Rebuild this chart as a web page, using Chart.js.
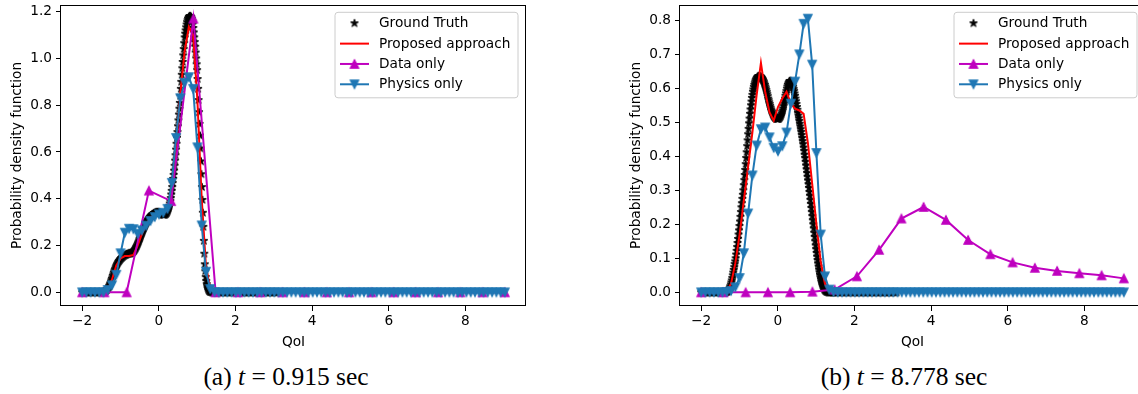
<!DOCTYPE html>
<html><head><meta charset="utf-8">
<script src="https://cdn.jsdelivr.net/npm/chart.js@4/dist/chart.umd.min.js"></script>
<style>
html,body{margin:0;padding:0;background:#fff;width:1138px;height:394px;overflow:hidden;position:relative;}
.cw{position:absolute;top:0;width:540px;height:352px;}
#wa{left:0}
#wb{left:619px}
.cap{position:absolute;top:363px;font-family:'Liberation Serif','Times New Roman',serif;font-size:25.5px;white-space:nowrap;transform:translateX(-50%);line-height:28px;color:#000;}
</style></head><body>
<div class="cw" id="wa"><canvas id="ca" width="540" height="352"></canvas></div>
<div class="cw" id="wb"><canvas id="cb" width="540" height="352"></canvas></div>
<div class="cap" style="left:286px">(a) <i>t</i> = 0.915 sec</div>
<div class="cap" style="left:904px">(b) <i>t</i> = 8.778 sec</div>
<script>
const seriesLabels = ['Ground Truth','Proposed approach','Data only','Physics only'];
const xAxisTitle = 'QoI';
const yAxisTitle = 'Probability density function';
const xTickValues = [-2,0,2,4,6,8];
const yTicksA = [0,0.2,0.4,0.6,0.8,1.0,1.2];
const yTicksB = [0,0.1,0.2,0.3,0.4,0.5,0.6,0.7,0.8];

// sample positions of the ground-truth curve (dense where the pdf is non-zero)
const xFine = [
-2,-1.975,-1.95,-1.925,-1.9,-1.875,-1.85,-1.825,-1.8,-1.775,
-1.75,-1.725,-1.7,-1.675,-1.65,-1.625,-1.6,-1.575,-1.55,-1.525,
-1.5,-1.4875,-1.475,-1.4625,-1.45,-1.4375,-1.425,-1.4125,
-1.4,-1.3875,-1.375,-1.3625,-1.35,-1.3375,-1.325,-1.3125,
-1.3,-1.2875,-1.275,-1.2625,-1.25,-1.2375,-1.225,-1.2125,
-1.2,-1.1875,-1.175,-1.1625,-1.15,-1.1375,-1.125,-1.1125,
-1.1,-1.0875,-1.075,-1.0625,-1.05,-1.0375,-1.025,-1.0125,
-1.0,-0.9875,-0.975,-0.9625,-0.95,-0.9375,-0.925,-0.9125,
-0.9,-0.8875,-0.875,-0.8625,-0.85,-0.8375,-0.825,-0.8125,
-0.8,-0.7875,-0.775,-0.7625,-0.75,-0.7375,-0.725,-0.7125,
-0.7,-0.6875,-0.675,-0.6625,-0.65,-0.6375,-0.625,-0.6125,
-0.6,-0.5875,-0.575,-0.5625,-0.55,-0.5375,-0.525,-0.5125,
-0.5,-0.4875,-0.475,-0.4625,-0.45,-0.4375,-0.425,-0.4125,
-0.4,-0.3875,-0.375,-0.3625,-0.35,-0.3375,-0.325,-0.3125,
-0.3,-0.2875,-0.275,-0.2625,-0.25,-0.2375,-0.225,-0.2125,
-0.2,-0.1875,-0.175,-0.1625,-0.15,-0.1375,-0.125,-0.1125,
-0.1,-0.0875,-0.075,-0.0625,-0.05,-0.0375,-0.025,-0.0125,
0,0.0125,0.025,0.0375,0.05,0.0625,0.075,0.0875,
0.1,0.1125,0.125,0.1375,0.15,0.1625,0.175,0.1875,
0.2,0.2125,0.225,0.2375,0.25,0.2625,0.275,0.2875,
0.3,0.3125,0.325,0.3375,0.35,0.3625,0.375,0.3875,
0.4,0.4125,0.425,0.4375,0.45,0.4625,0.475,0.4875,
0.5,0.5125,0.525,0.5375,0.55,0.5625,0.575,0.5875,
0.6,0.6125,0.625,0.6375,0.65,0.6625,0.675,0.6875,
0.7,0.7125,0.725,0.7375,0.75,0.7625,0.775,0.7875,
0.8,0.8125,0.825,0.8375,0.85,0.8625,0.875,0.8875,
0.9,0.9125,0.925,0.9375,0.95,0.9625,0.975,0.9875,
1.0,1.0125,1.025,1.0375,1.05,1.0625,1.075,1.0875,
1.1,1.1125,1.125,1.1375,1.15,1.1625,1.175,1.1875,
1.2,1.2125,1.225,1.2375,1.25,1.2625,1.275,1.2875,
1.3,1.3125,1.325,1.3375,1.35,1.3625,1.375,1.3875,
1.4,1.4125,1.425,1.4375,1.45,
1.475,1.5,1.525,1.55,1.575,1.6,1.625,1.65,1.675,1.7,
1.725,1.75,1.775,1.8,1.825,1.85,1.875,1.9,1.925,1.95,
1.975,2,2.025,2.05,2.075,2.1,2.125,2.15,2.175,2.2,
2.225,2.25,2.275,2.3,2.325,2.35,2.375,2.4,2.425,2.45,
2.475,2.5,2.525,2.55,2.575,2.6,2.625,2.65,2.675,2.7,
2.725,2.75,2.775,2.8,2.825,2.85,2.875,2.9,2.925,2.95,
2.975,3,3.025,3.05,3.075,3.1];

// grid of the model outputs (proposed / physics only)
const xGrid = [
-2.000,-1.889,-1.777,-1.666,-1.554,-1.443,-1.332,-1.220,-1.109,-0.997,
-0.886,-0.774,-0.663,-0.552,-0.440,-0.329,-0.217,-0.106,0.005,0.117,
0.228,0.340,0.451,0.563,0.674,0.785,0.897,1.008,1.120,1.231,
1.342,1.454,1.565,1.677,1.788,1.899,2.011,2.122,2.234,2.345,
2.457,2.568,2.679,2.791,2.902,3.014,3.125,3.236,3.348,3.459,
3.571,3.682,3.794,3.905,4.016,4.128,4.239,4.351,4.462,4.573,
4.685,4.796,4.908,5.019,5.131,5.242,5.353,5.465,5.576,5.688,
5.799,5.910,6.022,6.133,6.245,6.356,6.468,6.579,6.690,6.802,
6.913,7.025,7.136,7.247,7.359,7.470,7.582,7.693,7.804,7.916,
8.027,8.139,8.250,8.362,8.473,8.584,8.696,8.807,8.919,9.030];

// coarse grid of the data-only model
const xCoarse = [-2,-1.419,-0.839,-0.258,0.322,0.903,1.483,2.064,2.644,3.225,
3.805,4.386,4.966,5.547,6.127,6.708,7.288,7.869,8.449,9.03];

// ---- panel (a) t = 0.915 sec ----
const gtA = [
0,0,0,0,0,0,0,0,0,0,
0,0,0,0,0,0,0,0,0,0,
0,0.0005,0.001,0.0015,0.002,0.0025,0.003,0.004,
0.005,0.0065,0.008,0.010,0.012,0.015,0.018,0.021,
0.025,0.029,0.034,0.039,0.045,0.051,0.057,0.063,
0.070,0.076,0.083,0.089,0.095,0.100,0.106,0.111,
0.116,0.120,0.124,0.128,0.131,0.134,0.137,0.140,
0.142,0.145,0.147,0.149,0.151,0.153,0.155,0.157,
0.158,0.159,0.160,0.161,0.162,0.163,0.164,0.164,
0.165,0.166,0.166,0.166,0.167,0.167,0.168,0.169,
0.170,0.171,0.173,0.175,0.177,0.180,0.183,0.186,
0.190,0.194,0.198,0.202,0.207,0.212,0.217,0.222,
0.228,0.233,0.239,0.244,0.250,0.255,0.260,0.265,
0.270,0.275,0.280,0.285,0.290,0.294,0.298,0.302,
0.305,0.309,0.312,0.315,0.318,0.321,0.323,0.326,
0.328,0.330,0.332,0.334,0.335,0.337,0.338,0.339,
0.340,0.341,0.341,0.342,0.342,0.342,0.342,0.342,
0.342,0.341,0.340,0.339,0.338,0.337,0.335,0.334,
0.333,0.332,0.332,0.332,0.332,0.333,0.334,0.336,
0.338,0.341,0.345,0.350,0.355,0.362,0.370,0.380,
0.390,0.403,0.418,0.434,0.450,0.467,0.485,0.502,
0.520,0.541,0.563,0.586,0.610,0.635,0.660,0.685,
0.710,0.735,0.760,0.785,0.810,0.840,0.870,0.900,
0.930,0.958,0.985,1.013,1.040,1.065,1.090,1.106,
1.120,1.133,1.145,1.155,1.163,1.169,1.174,1.177,
1.180,1.181,1.180,1.178,1.175,1.168,1.160,1.146,
1.130,1.111,1.090,1.070,1.050,1.025,1.000,0.975,
0.950,0.912,0.870,0.822,0.770,0.720,0.670,0.615,
0.560,0.505,0.450,0.395,0.340,0.280,0.220,0.165,
0.120,0.090,0.065,0.048,0.035,0.026,0.018,0.013,
0.009,0.006,0.004,0.003,0.002,0.0015,0.001,0.0005,
0,0,0,0,0,
0,0,0,0,0,0,0,0,0,0,
0,0,0,0,0,0,0,0,0,0,
0,0,0,0,0,0,0,0,0,0,
0,0,0,0,0,0,0,0,0,0,
0,0,0,0,0,0,0,0,0,0,
0,0,0,0,0,0,0,0,0,0,
0,0,0,0,0,0];
const propA = [
0,0,0,0,0,0,0.008,0.055,0.115,0.145,
0.155,0.155,0.16,0.2,0.25,0.29,0.318,0.333,0.34,0.34,
0.35,0.43,0.62,0.85,1.03,1.135,1.10,0.82,0.40,0.11,
0.015,0.001,0,0,0,0,0,0,0,0,
0,0,0,0,0,0,0,0,0,0,
0,0,0,0,0,0,0,0,0,0,
0,0,0,0,0,0,0,0,0,0,
0,0,0,0,0,0,0,0,0,0,
0,0,0,0,0,0,0,0,0,0,
0,0,0,0,0,0,0,0,0,0];
const dataA = [0,0,0,0.435,0.39,1.17,0,0,0,0,0,0,0,0,0,0,0,0,0,0];
const physA = [
0,0,0,0,0,0,0.01,0.03,0.075,0.167,
0.255,0.272,0.27,0.25,0.265,0.285,0.305,0.322,0.333,0.34,
0.357,0.468,0.66,0.83,0.896,0.92,0.87,0.62,0.286,0.088,
0.014,0.001,0,0,0,0,0,0,0,0,
0,0,0,0,0,0,0,0,0,0,
0,0,0,0,0,0,0,0,0,0,
0,0,0,0,0,0,0,0,0,0,
0,0,0,0,0,0,0,0,0,0,
0,0,0,0,0,0,0,0,0,0,
0,0,0,0,0,0,0,0,0,0];

// ---- panel (b) t = 8.778 sec ----
const gtB = [
0,0,0,0,0,0,0,0,0,0,
0,0,0,0,0,0,0,0,0,0,
0,0,0,0,0,0,0,0,
0,0,0,0.0005,0.001,0.0015,0.002,0.003,
0.004,0.006,0.008,0.011,0.014,0.018,0.023,0.029,
0.035,0.042,0.050,0.058,0.066,0.074,0.083,0.091,
0.100,0.111,0.122,0.133,0.145,0.157,0.170,0.182,
0.195,0.208,0.222,0.236,0.250,0.262,0.275,0.287,
0.300,0.315,0.330,0.345,0.360,0.377,0.395,0.412,
0.430,0.447,0.465,0.481,0.497,0.511,0.525,0.538,
0.550,0.561,0.572,0.581,0.590,0.597,0.604,0.610,
0.615,0.620,0.624,0.627,0.630,0.632,0.634,0.635,
0.636,0.636,0.636,0.636,0.635,0.634,0.632,0.630,
0.628,0.625,0.622,0.618,0.614,0.610,0.605,0.600,
0.595,0.589,0.583,0.577,0.570,0.565,0.559,0.554,
0.548,0.543,0.538,0.534,0.530,0.526,0.523,0.520,
0.518,0.516,0.514,0.513,0.512,0.511,0.510,0.510,
0.510,0.510,0.511,0.512,0.514,0.516,0.518,0.521,
0.525,0.530,0.535,0.541,0.548,0.555,0.562,0.570,
0.578,0.585,0.592,0.599,0.605,0.610,0.614,0.617,
0.620,0.621,0.622,0.621,0.620,0.617,0.614,0.609,
0.604,0.598,0.592,0.585,0.578,0.570,0.562,0.554,
0.545,0.537,0.528,0.520,0.512,0.504,0.496,0.488,
0.480,0.472,0.463,0.454,0.445,0.436,0.426,0.416,
0.405,0.395,0.384,0.373,0.362,0.351,0.340,0.329,
0.318,0.307,0.295,0.284,0.272,0.260,0.248,0.236,
0.224,0.212,0.200,0.188,0.175,0.163,0.150,0.138,
0.127,0.116,0.105,0.095,0.085,0.076,0.067,0.059,
0.051,0.044,0.038,0.032,0.027,0.022,0.018,0.015,
0.012,0.009,0.007,0.005,0.004,0.003,0.002,0.0015,
0.001,0.0005,0,0,0,0,0,0,
0,0,0,0,0,
0,0,0,0,0,0,0,0,0,0,
0,0,0,0,0,0,0,0,0,0,
0,0,0,0,0,0,0,0,0,0,
0,0,0,0,0,0,0,0,0,0,
0,0,0,0,0,0,0,0,0,0,
0,0,0,0,0,0,0,0,0,0,
0,0,0,0,0,0];
const propB = [
0,0,0,0,0,0,0.003,0.025,0.085,0.17,
0.27,0.37,0.47,0.58,0.675,0.59,0.53,0.505,0.545,0.57,
0.59,0.555,0.54,0.535,0.525,0.44,0.32,0.2,0.09,0.025,
0.003,0,0,0,0,0,0,0,0,0,
0,0,0,0,0,0,0,0,0,0,
0,0,0,0,0,0,0,0,0,0,
0,0,0,0,0,0,0,0,0,0,
0,0,0,0,0,0,0,0,0,0,
0,0,0,0,0,0,0,0,0,0,
0,0,0,0,0,0,0,0,0,0];
const dataB = [0,0,0,0,0,0.002,0.008,0.047,0.125,0.217,0.251,0.213,0.154,0.112,0.088,0.072,0.063,0.056,0.05,0.041];
const physB = [
0,0,0,0,0,0,0.001,0.004,0.015,0.042,
0.115,0.232,0.344,0.432,0.48,0.485,0.456,0.425,0.415,0.43,
0.47,0.555,0.62,0.70,0.79,0.805,0.67,0.41,0.17,0.047,
0.008,0.001,0,0,0,0,0,0,0,0,
0,0,0,0,0,0,0,0,0,0,
0,0,0,0,0,0,0,0,0,0,
0,0,0,0,0,0,0,0,0,0,
0,0,0,0,0,0,0,0,0,0,
0,0,0,0,0,0,0,0,0,0,
0,0,0,0,0,0,0,0,0,0];

const COLORS = {gt:'#000000', prop:'#ff0000', data:'#bf00bf', phys:'#1f77b4'};
const FONT = 'DejaVu Sans';
const FS = 13.7;

Chart.defaults.font.family = FONT;
Chart.defaults.font.size = FS;
Chart.defaults.color = '#000';

function pts(xs, ys){ return xs.map((x,i)=>({x:x, y:ys[i]})); }

function starPath(g, cx, cy, R){
  const r = R*0.382;
  g.beginPath();
  for(let k=0;k<10;k++){
    const a = -Math.PI/2 + k*Math.PI/5;
    const rr = (k%2) ? r : R;
    const px = cx + rr*Math.cos(a), py = cy + rr*Math.sin(a);
    if(k) g.lineTo(px,py); else g.moveTo(px,py);
  }
  g.closePath();
}
function makeStar(){
  const c = document.createElement('canvas'); c.width = 12; c.height = 12;
  const g = c.getContext('2d');
  g.fillStyle = '#000'; g.strokeStyle = '#000'; g.lineWidth = 1;
  starPath(g, 6, 6, 4.1); g.fill(); g.stroke();
  return c;
}
function makeTri(color, down){
  const c = document.createElement('canvas'); c.width = 14; c.height = 14;
  const g = c.getContext('2d');
  const h = 4.2, cx = 7, cy = 7, s = down ? -1 : 1;
  g.fillStyle = color; g.strokeStyle = color; g.lineWidth = 1.2; g.lineJoin = 'miter';
  g.beginPath();
  g.moveTo(cx, cy - s*h); g.lineTo(cx + h, cy + s*h); g.lineTo(cx - h, cy + s*h); g.closePath();
  g.fill(); g.stroke();
  return c;
}
const starImg = makeStar();
const triUp = makeTri(COLORS.data, false);
const triDown = makeTri(COLORS.phys, true);

const frameLegend = {
  id: 'frameLegend',
  afterDraw(chart){
    const ctx = chart.ctx, a = chart.chartArea;
    ctx.save();
    ctx.strokeStyle = '#000'; ctx.lineWidth = 1;
    ctx.strokeRect(Math.round(a.left)-0.5, Math.round(a.top)+0.5, Math.round(a.right-a.left), Math.round(a.bottom-a.top)-1);
    const bw = 183, bh = 85.5;
    const bx = a.right - 8 - bw, by = a.top + 7.3;
    const rad = 3;
    ctx.beginPath();
    ctx.moveTo(bx+rad, by); ctx.lineTo(bx+bw-rad, by); ctx.arcTo(bx+bw, by, bx+bw, by+rad, rad);
    ctx.lineTo(bx+bw, by+bh-rad); ctx.arcTo(bx+bw, by+bh, bx+bw-rad, by+bh, rad);
    ctx.lineTo(bx+rad, by+bh); ctx.arcTo(bx, by+bh, bx, by+bh-rad, rad);
    ctx.lineTo(bx, by+rad); ctx.arcTo(bx, by, bx+rad, by, rad); ctx.closePath();
    ctx.fillStyle = 'rgba(255,255,255,0.8)'; ctx.fill();
    ctx.strokeStyle = '#cccccc'; ctx.lineWidth = 1; ctx.stroke();
    const x1 = bx + 5, x2 = bx + 34, xm = (x1+x2)/2, tx = bx + 44;
    ctx.font = FS + 'px "' + FONT + '"';
    ctx.textBaseline = 'middle'; ctx.textAlign = 'left';
    const imgs = [starImg, null, triUp, triDown];
    const cols = [COLORS.gt, COLORS.prop, COLORS.data, COLORS.phys];
    for(let k=0;k<4;k++){
      const cy = by + 11 + k*20.33;
      if(k>0){
        ctx.strokeStyle = cols[k]; ctx.lineWidth = 2;
        ctx.beginPath(); ctx.moveTo(x1, cy); ctx.lineTo(x2, cy); ctx.stroke();
      }
      if(imgs[k]) ctx.drawImage(imgs[k], xm - imgs[k].width/2, cy - imgs[k].height/2);
      ctx.fillStyle = '#000';
      ctx.fillText(seriesLabels[k], tx, cy + 0.5);
    }
    ctx.restore();
  }
};

function fmtX(v){ return v < 0 ? '\u2212' + Math.abs(v) : String(v); }

function makeChart(id, gt, prop, data, phys, yTicks, yMin, yMax){
  new Chart(document.getElementById(id), {
    type: 'line',
    data: {
      datasets: [
        {label: seriesLabels[0], data: pts(xFine, gt), showLine: false, pointStyle: starImg,
         pointRadius: 4, pointHoverRadius: 4, borderColor: COLORS.gt, backgroundColor: COLORS.gt, order: 3},
        {label: seriesLabels[1], data: pts(xGrid, prop), borderColor: COLORS.prop, backgroundColor: COLORS.prop,
         borderWidth: 2, pointRadius: 0, tension: 0, order: 2},
        {label: seriesLabels[2], data: pts(xCoarse, data), borderColor: COLORS.data, backgroundColor: COLORS.data,
         borderWidth: 2, pointStyle: triUp, pointRadius: 5, tension: 0, order: 1},
        {label: seriesLabels[3], data: pts(xGrid, phys), borderColor: COLORS.phys, backgroundColor: COLORS.phys,
         borderWidth: 2, pointStyle: triDown, pointRadius: 5, tension: 0, order: 0}
      ]
    },
    options: {
      responsive: false, animation: false, devicePixelRatio: 1, events: [],
      layout: {padding: {left: 0, top: 5, right: 14, bottom: 0}, autoPadding: false},
      plugins: {legend: {display: false}, tooltip: {enabled: false}},
      scales: {
        x: {
          type: 'linear', min: -2.5515, max: 9.5815,
          afterBuildTicks: s => { s.ticks = xTickValues.map(v => ({value: v})); },
          afterFit: s => { s.height = 46; s.paddingLeft = 0; s.paddingRight = 0; },
          grid: {display: true, drawOnChartArea: false, drawTicks: true, tickLength: 5, color: '#000', lineWidth: 1},
          border: {display: false},
          ticks: {padding: 2, color: '#000', maxRotation: 0, autoSkip: false, callback: v => fmtX(v)},
          title: {display: true, text: xAxisTitle, color: '#000', padding: {top: 0, bottom: 1.5}}
        },
        y: {
          type: 'linear', min: yMin, max: yMax,
          afterBuildTicks: s => { s.ticks = yTicks.map(v => ({value: v})); },
          afterFit: s => { s.width = 61; s.paddingTop = 0; s.paddingBottom = 0; },
          grid: {display: true, drawOnChartArea: false, drawTicks: true, tickLength: 5, color: '#000', lineWidth: 1},
          border: {display: false},
          ticks: {padding: 4, color: '#000', autoSkip: false, callback: v => Number(v).toFixed(1)},
          title: {display: true, text: yAxisTitle, color: '#000', padding: {top: 9, bottom: 0}}
        }
      }
    },
    plugins: [frameLegend]
  });
}

makeChart('ca', gtA, propA, dataA, physA, yTicksA, -0.0585, 1.2285);
makeChart('cb', gtB, propB, dataB, physB, yTicksB, -0.04025, 0.84525);
</script>
</body></html>
